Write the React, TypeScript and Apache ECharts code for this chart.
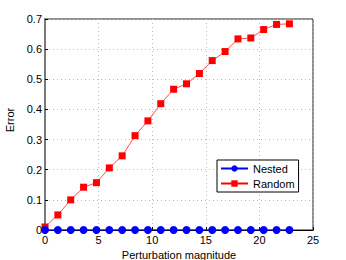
import React, { useEffect, useRef } from "react";
import * as echarts from "echarts";

const xValues = [0, 1.2, 2.4, 3.6, 4.8, 6.0, 7.2, 8.4, 9.6, 10.8, 12.0, 13.2, 14.4, 15.6, 16.8, 18.0, 19.2, 20.4, 21.6, 22.8];
const nestedValues = [0, 0, 0, 0, 0, 0, 0, 0, 0, 0, 0, 0, 0, 0, 0, 0, 0, 0, 0, 0];
const randomValues = [0.01, 0.05, 0.1, 0.142, 0.157, 0.206, 0.246, 0.313, 0.362, 0.419, 0.467, 0.485, 0.519, 0.562, 0.592, 0.634, 0.637, 0.665, 0.682, 0.684];
const seriesNames = ["Nested", "Random"];

const FONT = "Liberation Sans, Arial, sans-serif";

export default function App() {
  const ref = useRef<HTMLDivElement>(null);
  useEffect(() => {
    if (!ref.current) return;
    const chart = echarts.init(ref.current, undefined, { renderer: "svg" });
    const axisCommon = {
      axisLine: { show: true, lineStyle: { color: "#000", width: 1 } },
      axisTick: { show: true, inside: true, length: 3, lineStyle: { color: "#000" } },
      splitLine: { show: true, lineStyle: { color: "#bbb", type: [1, 3], width: 1 } },
      axisLabel: { color: "#000", fontSize: 11, fontFamily: FONT },
      nameTextStyle: { color: "#000", fontSize: 11, fontFamily: FONT },
    };
    chart.setOption({
      animation: false,
      backgroundColor: "#fff",
      grid: {
        left: 45,
        right: 33,
        top: 19,
        bottom: 30,
        show: true,
        borderColor: "#222",
        borderWidth: 1,
        backgroundColor: "transparent",
        containLabel: false,
        outerBoundsMode: "none",
      },
      xAxis: {
        type: "value",
        min: 0,
        max: 25,
        interval: 5,
        name: "Perturbation magnitude",
        nameLocation: "middle",
        nameGap: 15,
        ...axisCommon,
        axisLabel: { ...axisCommon.axisLabel, margin: 4 },
      },
      yAxis: {
        type: "value",
        min: 0,
        max: 0.7,
        interval: 0.1,
        name: "Error",
        nameLocation: "middle",
        nameGap: 24,
        ...axisCommon,
        axisLine: { show: true, lineStyle: { color: "#7a7a7a", width: 2 } },
        axisLabel: { ...axisCommon.axisLabel, margin: 3 },
        nameTextStyle: { ...axisCommon.nameTextStyle, padding: [0, 0, 0, 9] },
      },
      legend: {
        left: 217,
        top: 160,
        orient: "vertical",
        backgroundColor: "#fff",
        borderColor: "#000",
        borderWidth: 1,
        padding: [3, 4, 3, 3],
        itemGap: 4,
        itemWidth: 27,
        itemHeight: 8,
        textStyle: { color: "#000", fontSize: 11, fontFamily: FONT },
        data: seriesNames,
      },
      series: [
        {
          name: seriesNames[0],
          type: "line",
          data: xValues.map((x, i) => [x, nestedValues[i]]),
          symbol: "circle",
          symbolSize: 8,
          clip: false,
          lineStyle: { color: "#0000ff", width: 0.7 },
          itemStyle: { color: "#0000ff" },
          z: 3,
        },
        {
          name: seriesNames[1],
          type: "line",
          data: xValues.map((x, i) => [x, randomValues[i]]),
          symbol: "rect",
          symbolSize: 7,
          clip: false,
          lineStyle: { color: "#ff0000", width: 0.7 },
          itemStyle: { color: "#ff0000" },
          z: 2,
        },
      ],
    });
    return () => chart.dispose();
  }, []);
  return <div ref={ref} style={{ width: 346, height: 260, position: "fixed", left: 0, top: 0 }} />;
}
